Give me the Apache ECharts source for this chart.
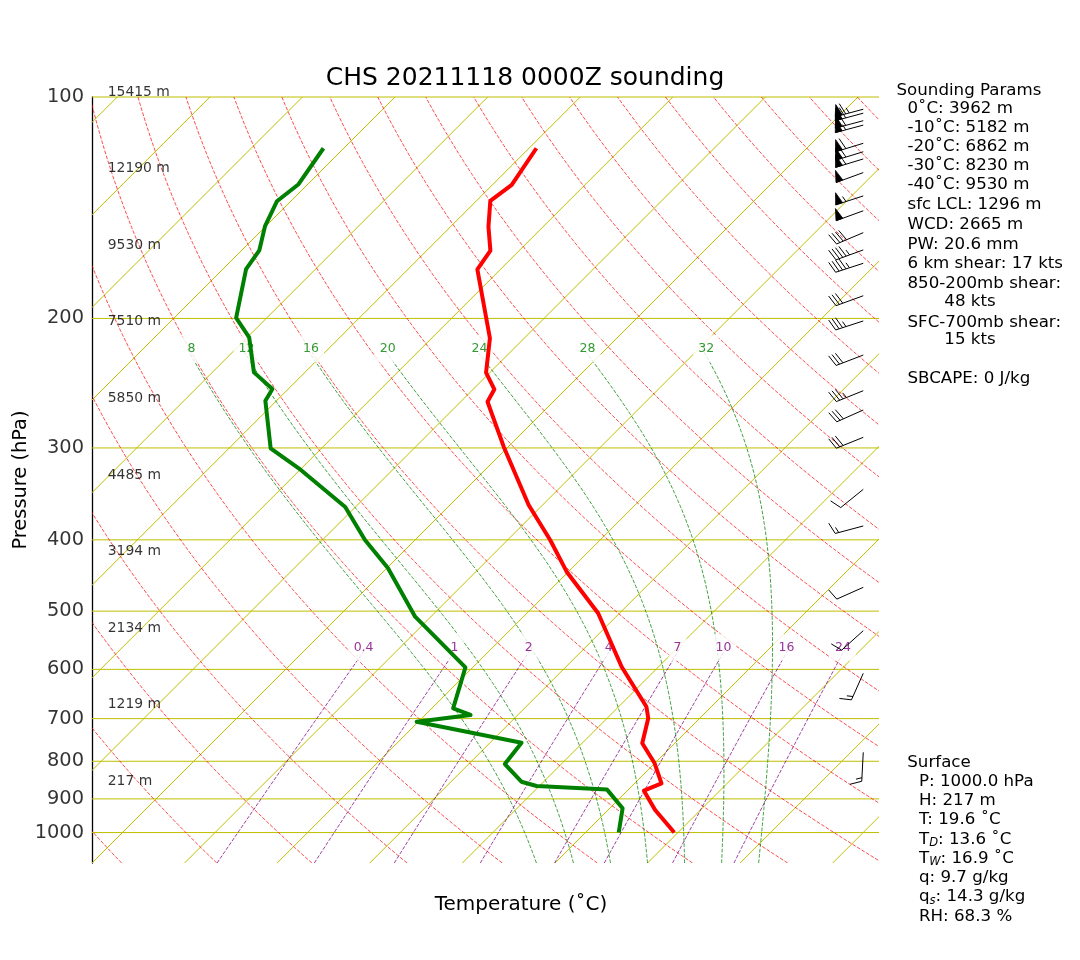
<!DOCTYPE html>
<html><head><meta charset="utf-8">
<script src="https://cdn.jsdelivr.net/npm/echarts@6/dist/echarts.min.js"></script>
<style>html,body{margin:0;padding:0;background:#fff}#c{width:1080px;height:960px}</style>
</head><body><div id="c"></div>
<script>
// ---------------- data ----------------
const tempP = [117.4,131.7,138.4,150.1,161.8,171.5,212.8,237.0,249.7,259.6,298.8,358.7,400.2,441.9,503.4,595.0,674.4,699.3,756.2,805.1,857.1,877.2,931.9,1000];
const tempT = [-69.2,-67.9,-68.5,-65.9,-63.1,-62.5,-53.7,-50.4,-47.7,-47.1,-40.5,-31.5,-25.4,-20.2,-12.3,-4.0,3.0,4.45,6.5,10.0,12.9,11.8,15.1,19.6];
const dewP = [117.4,131.4,138.6,149.8,161.6,171.4,199.7,212.2,236.8,249.5,258.8,300.3,319.7,360.9,400.2,436.9,508.8,596.2,677.8,692.1,706.8,754.8,806.9,852.9,864.4,874.2,926.9,1000];
const dewT = [-92.2,-91.0,-91.5,-90.1,-88.1,-87.5,-83.3,-79.8,-75.5,-71.7,-71.2,-65.5,-60.3,-51.1,-45.4,-39.9,-31.7,-20.8,-17.7,-15.1,-20.2,-6.6,-6.1,-2.4,-0.3,7.7,11.4,13.6];
const windP = [103.9,105.2,107.7,109.2,115.6,118.7,121.4,126.7,136.3,142.8,152.9,161.4,168.3,186.3,201.6,224.3,250.8,266.4,290.2,341.5,383.0,464.1,531.6,607.5,777.9];
const windDir = [255,255,255,255,253,253,253,250,252,250,247,250,252,250,252,249,248,246,248,231,255,246,228,204,183];
const windSpd = [65,60,60,55,60,60,55,50,55,50,40,45,45,30,35,30,35,30,30,10,15,10,10,15,15];
const pressureTicks = [100,200,300,400,500,600,700,800,900,1000];
const heightLabels = ['15415 m','12190 m','9530 m','7510 m','5850 m','4485 m','3194 m','2134 m','1219 m','217 m'];
const moistStartT = [8,12,16,20,24,28,32];
const mixingRatios = [0.4,1,2,4,7,10,16,24];
const mixingLabels = ['0.4','1','2','4','7','10','16','24'];
const titleText = 'CHS 20211118 0000Z sounding';
const paramLines = ['0˚C: 3962 m','-10˚C: 5182 m','-20˚C: 6862 m','-30˚C: 8230 m','-40˚C: 9530 m','sfc LCL: 1296 m','WCD: 2665 m','PW: 20.6 mm','6 km shear: 17 kts'];
const surfaceLines = ['P: 1000.0 hPa','H: 217 m','T: 19.6 ˚C','T{sub|D}: 13.6 ˚C','T{sub|W}: 16.9 ˚C','q: 9.7 g/kg','q{sub|s}: 14.3 g/kg','RH: 68.3 %'];

// ---------------- layout / helpers ----------------
const GRID = {left:92, top:97, width:787, height:766};
const XMIN = -40, XMAX = 45, PTOP = 100, PBOT = 1100;
const SKEW = GRID.height / (GRID.width / (XMAX - XMIN));
const LNR = Math.log(PBOT / PTOP);
function sx(T, p){ return T + SKEW * Math.log(PBOT / p) / LNR; }
function fracP(f){ return PBOT * Math.pow(PTOP / PBOT, f); }
const FONT = 'DejaVu Sans';
const BIG = 16.67;

const pGrid = [];
for (let i = 0; i <= 100; i++) pGrid.push(PBOT * Math.pow(PTOP / PBOT, i / 100));

const Rd = 287.04749, Lv = 2.50084e6, Cpd = 1004.6662, EPS = 0.622, KAP = Rd / Cpd;
function esat(Tk){ const t = Tk - 273.15; return 6.112 * Math.exp(17.67 * t / (t + 243.5)); }
function rsat(p, Tk){ const e = esat(Tk); return EPS * e / (p - e); }
function dTdp(p, Tk){ const rs = rsat(p, Tk); return (Rd * Tk + Lv * rs) / (Cpd + Lv * Lv * rs * EPS / (Rd * Tk * Tk)) / p; }
function moistLine(T0, pEnd){
  let T = T0 + 273.15, p = PBOT; const h = -5; const pts = [[sx(T0, p), p]];
  while (p + h >= pEnd - 1e-6){
    const k1 = dTdp(p, T), k2 = dTdp(p + h / 2, T + h / 2 * k1), k3 = dTdp(p + h / 2, T + h / 2 * k2), k4 = dTdp(p + h, T + h * k3);
    T += h / 6 * (k1 + 2 * k2 + 2 * k3 + k4); p += h; pts.push([sx(T - 273.15, p), p]);
  }
  return pts;
}
function tdFromW(p, wgkg){
  const w = wgkg / 1000, e = p * w / (EPS + w), l = Math.log(e / 6.112);
  return 243.5 * l / (17.67 - l);
}

function family(lines, color, width, dash, opacity, clip){
  return {type:'custom', silent:true, animation:false, clip:clip !== false, z:1,
    encode:{x:0, y:1},
    data: lines.map(l => [l[0][0], l[0][1]]),
    renderItem(params, api){
      const pts = lines[params.dataIndex].map(q => api.coord(q));
      return {type:'polyline', shape:{points:pts},
        style:{stroke:color, lineWidth:width, lineDash:dash, opacity, fill:null}};
    }};
}

const series = [];
const isobars = pressureTicks.map(p => [[XMIN, p], [XMAX, p]]);
const isotherms = [];
for (let T = -120; T <= 40; T += 10) isotherms.push([[sx(T, PBOT), PBOT], [sx(T, PTOP), PTOP]]);
const dryAd = [];
for (let th = 220; th <= 460; th += 10) dryAd.push(pGrid.map(p => [sx(th * Math.pow(p / 1000, KAP) - 273.15, p), p]));
const MOIST_TOP = 220;
const moistAd = moistStartT.map(T0 => moistLine(T0, MOIST_TOP));
const MIX_TOP = 560;
const mixP = []; for (let i = 0; i <= 20; i++) mixP.push(PBOT * Math.pow(MIX_TOP / PBOT, i / 20));
const mixLines = mixingRatios.map(w => mixP.map(p => [sx(tdFromW(p, w), p), p]));

series.push(family(isobars, '#bfbf00', 1, null, 1, false));
series.push(family(isotherms, '#bfbf00', 1, null, 1));
series.push(family(dryAd, '#ff0000', 1, [3.7, 1.6], 0.7));
series.push(family(moistAd, '#008000', 1, [3.7, 1.6], 0.75));
series.push(family(mixLines, '#800080', 1, [3.7, 1.6], 0.75));

series.push({type:'scatter', symbolSize:0, silent:true, animation:false, clip:false, z:2,
  data: moistAd.map((l, i) => ({value:l[l.length - 1], name:String(moistStartT[i])})),
  label:{show:true, position:'inside', offset:[4, 0], formatter:'{b}', color:'#008000', fontFamily:FONT, fontSize:12.5,
    backgroundColor:'#fff', padding:[7, 5]}});
series.push({type:'scatter', symbolSize:0, silent:true, animation:false, clip:false, z:2,
  data: mixLines.map((l, i) => ({value:l[l.length - 1], name:mixingLabels[i]})),
  label:{show:true, position:'inside', offset:[-3, 0], formatter:'{b}', color:'#800080', fontFamily:FONT, fontSize:12.5,
    backgroundColor:'#fff', padding:[7, 5]}});

series.push({type:'scatter', symbolSize:0, silent:true, animation:false, clip:false, z:2,
  data: pressureTicks.map(p => ({value:[XMIN, p], name:String(p)})),
  label:{show:true, position:'left', distance:8, formatter:'{b}', color:'#000', fontFamily:FONT, fontSize:19.4}});
series.push({type:'scatter', symbolSize:0, silent:true, animation:false, clip:false, z:2,
  data: heightLabels.map((h, i) => ({value:[XMIN + 0.02 * (XMAX - XMIN), fracP(1 - i * 0.1)], name:h})),
  label:{show:true, position:'right', distance:0, offset:[0, -5], formatter:'{b}', color:'#000', fontFamily:FONT, fontSize:13.9}});

series.push({type:'line', data: tempP.map((p, i) => [sx(tempT[i], p), p]), symbol:'none', silent:true, animation:false, z:3,
  lineStyle:{color:'#ff0000', width:4, join:'round'}});
series.push({type:'line', data: dewP.map((p, i) => [sx(dewT[i], p), p]), symbol:'none', silent:true, animation:false, z:3,
  lineStyle:{color:'#008000', width:4, join:'round'}});

const BX = XMIN + 0.98 * (XMAX - XMIN);
series.push({type:'custom', silent:true, animation:false, clip:false, z:4,
  encode:{x:0, y:1},
  data: windP.map((p, i) => [BX, p, windDir[i], windSpd[i]]),
  renderItem(params, api){
    const p = api.value(1), dir = api.value(2) * Math.PI / 180, spd = api.value(3);
    const tip = api.coord([api.value(0), p]);
    const L = 29, fh = 0.4 * L, fw = 0.25 * L, sp = 0.125 * L;
    const d = [Math.sin(dir), -Math.cos(dir)], n = [Math.cos(dir), Math.sin(dir)];
    const P = (a, b) => [tip[0] + d[0] * a + n[0] * b, tip[1] + d[1] * a + n[1] * b];
    let m = 5 * Math.floor(spd / 5 + 0.5);
    const nf = Math.floor(m / 50); m -= nf * 50;
    const nb = Math.floor(m / 10); m -= nb * 10;
    const half = m >= 5;
    const st = {stroke:'#000', lineWidth:1, fill:null};
    const ch = [{type:'polyline', shape:{points:[P(0, 0), P(L, 0)]}, style:st}];
    let off = L;
    for (let i = 0; i < nf; i++){
      if (off !== L) off += sp / 2;
      ch.push({type:'polygon', shape:{points:[P(off, 0), P(off - fw / 2, fh), P(off - fw, 0)]}, style:{fill:'#000', stroke:'#000', lineWidth:0.8}});
      off -= fw + sp;
    }
    for (let i = 0; i < nb; i++){
      ch.push({type:'polyline', shape:{points:[P(off, 0), P(off + fw / 2, fh)]}, style:st});
      off -= sp;
    }
    if (half){
      if (off === L) off -= 1.5 * sp;
      ch.push({type:'polyline', shape:{points:[P(off, 0), P(off + fw / 4, fh / 2)]}, style:st});
    }
    return {type:'group', children:ch};
  }});

const graphics = [];
function txt(text, x, y, size, opts){
  graphics.push({type:'text', silent:true, x, y,
    style:Object.assign({text, fontFamily:FONT, fontSize:size, fill:'#000', align:'left', verticalAlign:'middle'}, opts || {})});
}
graphics.push({type:'text', silent:true, x:525, y:78, style:{text:titleText, fontFamily:FONT, fontSize:25, fill:'#000', align:'center', verticalAlign:'middle'}});
graphics.push({type:'text', silent:true, x:21, y:480, rotation:Math.PI / 2, style:{text:'Pressure (hPa)', fontFamily:FONT, fontSize:19.4, fill:'#000', align:'center', verticalAlign:'middle'}});
graphics.push({type:'text', silent:true, x:521, y:905, style:{text:'Temperature (˚C)', fontFamily:FONT, fontSize:20, fill:'#000', align:'center', verticalAlign:'middle'}});

txt('Sounding Params', 896.5, 90.7, BIG);
const paramY = [108.3,127.7,147,166,185,205,225,244.3,264];
paramLines.forEach((t, i) => txt(t, 907.5, paramY[i], BIG));
txt('850-200mb shear:', 907.5, 284, BIG);
txt('48 kts', 944.3, 301.7, BIG);
txt('SFC-700mb shear:', 907.5, 322.3, BIG);
txt('15 kts', 944.3, 340, BIG);
txt('SBCAPE: 0 J/kg', 907.5, 379, BIG);

txt('Surface', 907.3, 762.3, BIG);
const surfY = [781.7,801,820,839.3,858.3,877.7,896.7,916.7];
surfaceLines.forEach((t, i) => txt(t, 919, surfY[i], BIG, {rich:{sub:{fontFamily:FONT, fontSize:11.5, fontStyle:'italic', fill:'#000', padding:[8, 0, 0, 0]}}}));

const chart = echarts.init(document.getElementById('c'), null, {renderer:'canvas', width:1080, height:960});
chart.setOption({
  animation:false,
  backgroundColor:'#fff',
  grid:{left:GRID.left, top:GRID.top, width:GRID.width, height:GRID.height, containLabel:false},
  xAxis:{type:'value', min:XMIN, max:XMAX, show:false},
  yAxis:{type:'log', logBase:10, min:PTOP, max:PBOT, inverse:true,
    axisLine:{show:true, onZero:false, lineStyle:{color:'#000', width:1.3}},
    axisTick:{show:false}, axisLabel:{show:false}, splitLine:{show:false}},
  series,
  graphic:graphics
});
</script></body></html>
